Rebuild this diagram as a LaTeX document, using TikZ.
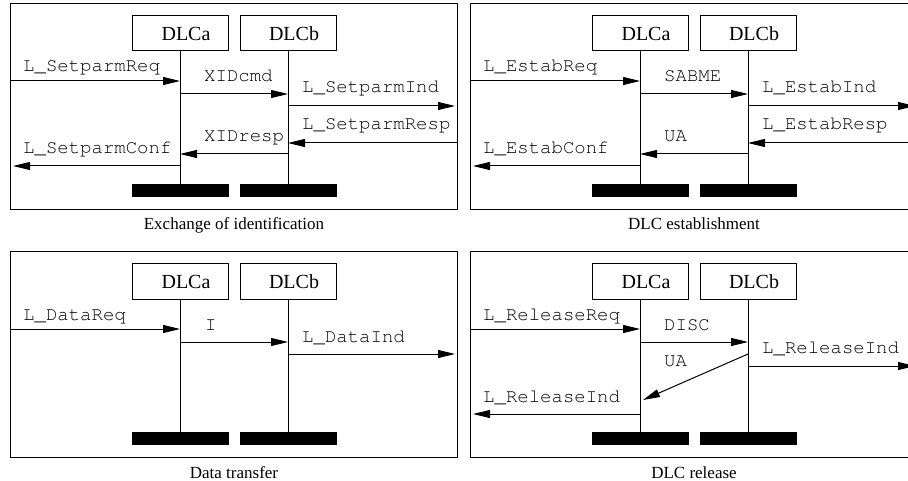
\documentclass[tikz,border=0pt]{standalone}
\usepackage[T1,TU]{fontenc}
\usepackage{fontspec}
\setmainfont{Liberation Serif}
\usetikzlibrary{arrows.meta,positioning,calc}

\newcommand\courier{\fontencoding{T1}\fontfamily{pcr}\selectfont}

\tikzset{
  panel/.style={draw, line width=1pt, minimum width=447pt, minimum height=206pt, inner sep=0pt, anchor=north west},
  dlc/.style={draw, line width=1pt, minimum width=96pt, minimum height=35pt, inner sep=0pt,
    font=\fontsize{20}{24}\selectfont, execute at begin node=\hspace*{12pt}},
  bar/.style={fill=black, minimum width=97pt, minimum height=13pt, inner sep=0pt},
  life/.style={line width=1pt},
  msg/.style={line width=1pt, -{Triangle[length=17pt,width=8pt]}},
  lbl/.style={anchor=base west, inner sep=0pt, font=\courier\fontsize{19}{22}\selectfont},
  captext/.style={anchor=base, inner sep=0pt, font=\fontsize{17}{20}\selectfont}
}

\begin{document}
\begin{tikzpicture}[x=1pt, y=-1pt]
  \useasboundingbox (0,0) rectangle (908,481);
  \clip (0,0) rectangle (908,481);

  % exchange of identification
  \begin{scope}[shift={(10,3)}, name prefix=xid-]
    \node[panel] (frame) at (0,0) {};
    \node[dlc] (a) at (170,30.5) {DLCa};
    \node[dlc] (b) at (278,30.5) {DLCb};
    \node[bar] (barA) at (170,187.5) {};
    \node[bar] (barB) at (278,187.5) {};
    \draw[life] (a.south) -- (barA.north);
    \draw[life] (b.south) -- (barB.north);
    \node[captext] (caption) at ($(frame.south)+(0,20)$) {Exchange of identification};

    \coordinate (in1) at (0,78);   \coordinate (a1) at (170,78);
    \coordinate (a2) at (170,91);  \coordinate (b2) at (278,91);
    \coordinate (b3) at (278,103); \coordinate (out3) at (445,103);
    \coordinate (in4) at (447,140); \coordinate (b4) at (278,140);
    \coordinate (b5) at (278,151); \coordinate (a5) at (170,151);
    \coordinate (a6) at (170,163); \coordinate (out6) at (3,163);
    \draw[msg] (in1) -- (a1);
    \draw[msg] (a2) -- (b2);
    \draw[msg] (b3) -- (out3);
    \draw[msg] (in4) -- (b4);
    \draw[msg] (b5) -- (a5);
    \draw[msg] (a6) -- (out6);
    \node[lbl] (req) at (13,69) {L\_SetparmReq};
    \node[lbl] (cmd) at (194,79) {XIDcmd};
    \node[lbl] (ind) at (292,90) {L\_SetparmInd};
    \node[lbl] (resp) at (292,127) {L\_SetparmResp};
    \node[lbl] (xresp) at (194,139) {XIDresp};
    \node[lbl] (conf) at (13,151) {L\_SetparmConf};
  \end{scope}

  % establishment
  \begin{scope}[shift={(470,3)}, name prefix=est-]
    \node[panel] (frame) at (0,0) {};
    \node[dlc] (a) at (170,30.5) {DLCa};
    \node[dlc] (b) at (278,30.5) {DLCb};
    \node[bar] (barA) at (170,187.5) {};
    \node[bar] (barB) at (278,187.5) {};
    \draw[life] (a.south) -- (barA.north);
    \draw[life] (b.south) -- (barB.north);
    \node[captext] (caption) at ($(frame.south)+(0,20)$) {DLC establishment};

    \coordinate (in1) at (0,78);   \coordinate (a1) at (170,78);
    \coordinate (a2) at (170,91);  \coordinate (b2) at (278,91);
    \coordinate (b3) at (278,103); \coordinate (out3) at (445,103);
    \coordinate (in4) at (447,140); \coordinate (b4) at (278,140);
    \coordinate (b5) at (278,151); \coordinate (a5) at (170,151);
    \coordinate (a6) at (170,163); \coordinate (out6) at (3,163);
    \draw[msg] (in1) -- (a1);
    \draw[msg] (a2) -- (b2);
    \draw[msg] (b3) -- (out3);
    \draw[msg] (in4) -- (b4);
    \draw[msg] (b5) -- (a5);
    \draw[msg] (a6) -- (out6);
    \node[lbl] (req) at (13,69) {L\_EstabReq};
    \node[lbl] (sabme) at (194,79) {SABME};
    \node[lbl] (ind) at (292,90) {L\_EstabInd};
    \node[lbl] (resp) at (292,127) {L\_EstabResp};
    \node[lbl] (ua) at (194,139) {UA};
    \node[lbl] (conf) at (13,151) {L\_EstabConf};
  \end{scope}

  % data transfer
  \begin{scope}[shift={(10,251)}, name prefix=dat-]
    \node[panel] (frame) at (0,0) {};
    \node[dlc] (a) at (170,30.5) {DLCa};
    \node[dlc] (b) at (278,30.5) {DLCb};
    \node[bar] (barA) at (170,187.5) {};
    \node[bar] (barB) at (278,187.5) {};
    \draw[life] (a.south) -- (barA.north);
    \draw[life] (b.south) -- (barB.north);
    \node[captext] (caption) at ($(frame.south)+(0,20)$) {Data transfer};

    \coordinate (in1) at (0,78);   \coordinate (a1) at (170,78);
    \coordinate (a2) at (170,91);  \coordinate (b2) at (278,91);
    \coordinate (b3) at (278,103); \coordinate (out3) at (445,103);
    \draw[msg] (in1) -- (a1);
    \draw[msg] (a2) -- (b2);
    \draw[msg] (b3) -- (out3);
    \node[lbl] (req) at (13,69) {L\_DataReq};
    \node[lbl] (iframe) at (195,79) {I};
    \node[lbl] (ind) at (292,91) {L\_DataInd};
  \end{scope}

  % release
  \begin{scope}[shift={(470,251)}, name prefix=rel-]
    \node[panel] (frame) at (0,0) {};
    \node[dlc] (a) at (170,30.5) {DLCa};
    \node[dlc] (b) at (278,30.5) {DLCb};
    \node[bar] (barA) at (170,187.5) {};
    \node[bar] (barB) at (278,187.5) {};
    \draw[life] (a.south) -- (barA.north);
    \draw[life] (b.south) -- (barB.north);
    \node[captext] (caption) at ($(frame.south)+(0,20)$) {DLC release};

    \coordinate (in1) at (0,78);   \coordinate (a1) at (170,78);
    \coordinate (a2) at (170,91);  \coordinate (b2) at (278,91);
    \coordinate (b3) at (278,103); \coordinate (a3) at (173,149);
    \coordinate (b4) at (278,115); \coordinate (out4) at (445,115);
    \coordinate (a5) at (170,163); \coordinate (out5) at (3,163);
    \draw[msg] (in1) -- (a1);
    \draw[msg] (a2) -- (b2);
    \draw[msg] (b3) -- (a3);
    \draw[msg] (b4) -- (out4);
    \draw[msg] (a5) -- (out5);
    \node[lbl] (req) at (13,69) {L\_ReleaseReq};
    \node[lbl] (disc) at (194,79) {DISC};
    \node[lbl] (ua) at (194,115) {UA};
    \node[lbl] (indR) at (292,102) {L\_ReleaseInd};
    \node[lbl] (indL) at (13,151) {L\_ReleaseInd};
  \end{scope}
\end{tikzpicture}
\end{document}
